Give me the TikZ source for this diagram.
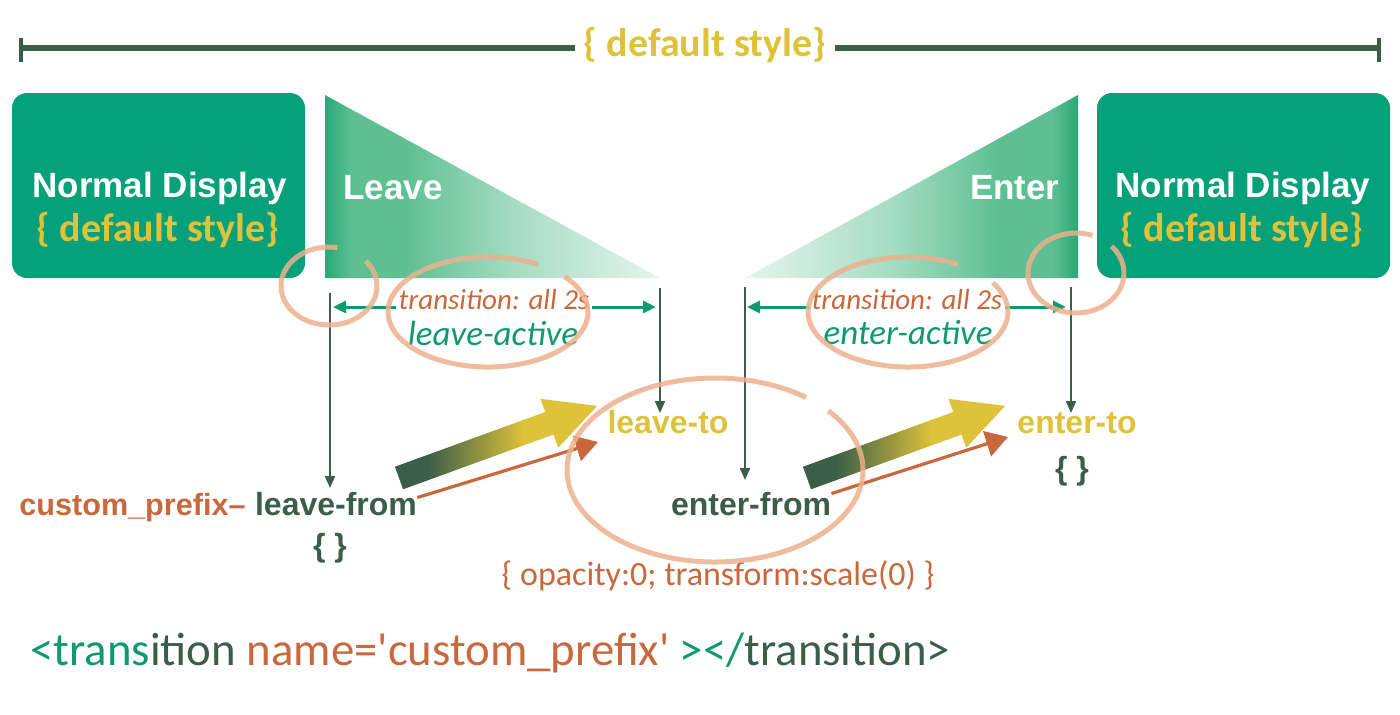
\documentclass[tikz,border=0pt]{standalone}
\usepackage{fontspec}
\setmainfont{Liberation Sans}
\newfontfamily\hum{Carlito}
\usetikzlibrary{arrows.meta}
\definecolor{boxg}{HTML}{06A07A}
\definecolor{dkg}{HTML}{3A5E48}
\definecolor{gold}{HTML}{DEC23A}
\definecolor{org}{HTML}{C8683C}
\definecolor{salm}{HTML}{EDB08E}
\definecolor{arrg}{HTML}{0E9A6E}
\definecolor{lgA}{HTML}{2AA877}
\definecolor{lgB}{HTML}{5EC092}
\definecolor{lgC}{HTML}{A5DCC2}
\definecolor{lgD}{HTML}{E6F5ED}
\pgfdeclarehorizontalshading{leavegrad}{100bp}{color(0bp)=(lgA); color(25bp)=(lgA); color(29bp)=(lgB); color(37bp)=(lgB); color(53bp)=(lgC); color(75bp)=(lgD); color(100bp)=(lgD)}
\pgfdeclarehorizontalshading{entergrad}{100bp}{color(0bp)=(lgD); color(25bp)=(lgD); color(47bp)=(lgC); color(63bp)=(lgB); color(71bp)=(lgB); color(75bp)=(lgA); color(100bp)=(lgA)}
\pgfdeclarehorizontalshading{arrgrad}{100bp}{color(0bp)=(dkg); color(33bp)=(dkg); color(57bp)=(gold); color(100bp)=(gold)}
\begin{document}
\begin{tikzpicture}[x=0.5pt,y=-0.5pt,
  box/.style={fill=boxg, rounded corners=7.5pt, minimum width=146.5pt, minimum height=92.5pt, inner sep=0pt},
  big/.style={font=\bfseries\fontsize{17.5}{20}\selectfont, text=white, inner sep=0pt},
  dstyle/.style={font=\hum\bfseries\fontsize{20}{22}\selectfont, text=gold, inner sep=0pt},
  lbl/.style={font=\bfseries\fontsize{16}{18}\selectfont, inner sep=0pt},
  trs/.style={font=\hum\itshape\fontsize{14.5}{16}\selectfont, text=org, fill=white, inner sep=1.5pt},
  act/.style={font=\hum\itshape\fontsize{17.5}{19}\selectfont, text=arrg, inner sep=0pt},
  vdown/.style={dkg, line width=1pt, -{Triangle[length=6pt,width=5pt]}},
  hdouble/.style={arrg, line width=1.5pt, {Triangle[length=6.5pt,width=6pt]}-{Triangle[length=6.5pt,width=6pt]}},
  ring/.style={salm, line width=2.5pt, opacity=0.85},
  thin/.style={org, line width=1.6pt, -{Triangle[length=11pt,width=13pt]}},
  bar/.style={dkg, line width=3pt},
]
\useasboundingbox (0,0) rectangle (1400,714);

% top bar
\node[dstyle] (top) at (705,45) {\{ default style\}};
\coordinate (tl) at (20,48);
\coordinate (tlm) at (575,48);
\coordinate (trm) at (835,48);
\coordinate (tr) at (1380,48);
\draw[bar] (tl) -- (tlm);
\draw[bar] (trm) -- (tr);
\draw[dkg, line width=1.6pt] (21,38) -- (21,62);
\draw[dkg, line width=1.6pt] (1379,38) -- (1379,62);

% triangles
\shade[shading=leavegrad] (325,95) -- (325,278) -- (660,278) -- cycle;
\shade[shading=entergrad] (1078,95) -- (1078,278) -- (745,278) -- cycle;

% boxes
\node[box] (boxL) at (158.5,185.5) {};
\node[box] (boxR) at (1243.5,185.5) {};

% box texts
\node[big] (ndL) at (160,188) {Normal Display};
\node[dstyle] (dsL) at (158,230) {\{ default style\}};
\node[big] (ndR) at (1243,188) {Normal Display};
\node[dstyle] (dsR) at (1242,230) {\{ default style\}};
\node[big, anchor=west] (leave) at (343,188) {Leave};
\node[big, anchor=east] (enter) at (1060,188) {Enter};

% horizontal double arrows
\coordinate (hL1) at (333,307); \coordinate (hL2) at (656,307);
\coordinate (hR1) at (747,307); \coordinate (hR2) at (1066,307);
\draw[hdouble] (hL1) -- (hL2);
\draw[hdouble] (hR1) -- (hR2);

% active texts
\node[trs] (trL) at (494,300) {transition: all 2s};
\node[act] (acL) at (493,333) {leave-active};
\node[trs] (trR) at (907,300) {transition: all 2s};
\node[act] (acR) at (908,333) {enter-active};

% state labels
\node[lbl, font=\bfseries\fontsize{15.3}{18}\selectfont, text=org, anchor=base east] (pref) at (246,515) {custom\_prefix--};
\node[lbl, text=dkg, anchor=base] (lfrom) at (336,515) {leave-from};
\node[lbl, text=dkg] (lfb) at (330,548) {\{ \}};
\node[lbl, text=gold, anchor=base] (lto) at (668,433) {leave-to};
\node[lbl, text=dkg, anchor=base] (efrom) at (751,515) {enter-from};
\node[lbl, text=gold, anchor=base] (eto) at (1077,433) {enter-to};
\node[lbl, text=dkg] (etb) at (1072,471) {\{ \}};
\node[font=\hum\fontsize{17}{19}\selectfont, text=org, anchor=base, inner sep=0pt] (opac) at (718,585) {\{ opacity:0; transform:scale(0) \}};

% vertical arrows
\coordinate (v1a) at (330,293); \coordinate (v1b) at (330,488);
\coordinate (v2a) at (660,288); \coordinate (v2b) at (660,413);
\coordinate (v3a) at (745,287); \coordinate (v3b) at (745,480);
\coordinate (v4a) at (1071,287); \coordinate (v4b) at (1071,413);
\draw[vdown] (v1a) -- (v1b);
\draw[vdown] (v2a) -- (v2b);
\draw[vdown] (v3a) -- (v3b);
\draw[vdown] (v4a) -- (v4b);

% gradient arrows
\begin{scope}[shift={(399,478)}, rotate=20]
\shade[shading=arrgrad] (0,-12) -- (160,-12) -- (160,-26) -- (211,0) -- (160,26) -- (160,12) -- (0,12) -- cycle;
\end{scope}
\begin{scope}[shift={(807,478)}, rotate=20]
\shade[shading=arrgrad] (0,-12) -- (160,-12) -- (160,-26) -- (211,0) -- (160,26) -- (160,12) -- (0,12) -- cycle;
\end{scope}

% thin orange arrows
\coordinate (o1) at (598,442);
\coordinate (o2) at (1008,437);
\draw[thin] (lfrom.east) ++(0,-6) coordinate (o1s) -- (o1);
\draw[thin] (efrom.east) ++(0,-10) coordinate (o2s) -- (o2);

% rings
\draw[ring] (329,286) ++(80:24pt and 19.5pt) arc[start angle=80, end angle=400, x radius=24pt, y radius=19.5pt];
\draw[ring] (488,312) ++(60:50pt and 27.5pt) arc[start angle=60, end angle=400, x radius=50pt, y radius=27.5pt];
\draw[ring] (908,312) ++(60:50pt and 27.5pt) arc[start angle=60, end angle=392, x radius=50pt, y radius=27.5pt];
\draw[ring] (1076,273) ++(70:24pt and 20pt) arc[start angle=70, end angle=402, x radius=24pt, y radius=20pt];
\draw[ring] (715,470) ++(52:74pt and 46pt) arc[start angle=52, end angle=400, x radius=74pt, y radius=46pt];

% bottom code line
\node[font=\hum\fontsize{23.4}{25}\selectfont, anchor=base west, inner sep=0pt] (code) at (30,665)
 {\textcolor{arrg}{<trans}\textcolor{dkg}{ition} \textcolor{org}{name=\textquotesingle custom\_prefix\textquotesingle} \textcolor{arrg}{></}\textcolor{dkg}{transition>}};
\end{tikzpicture}
\end{document}
